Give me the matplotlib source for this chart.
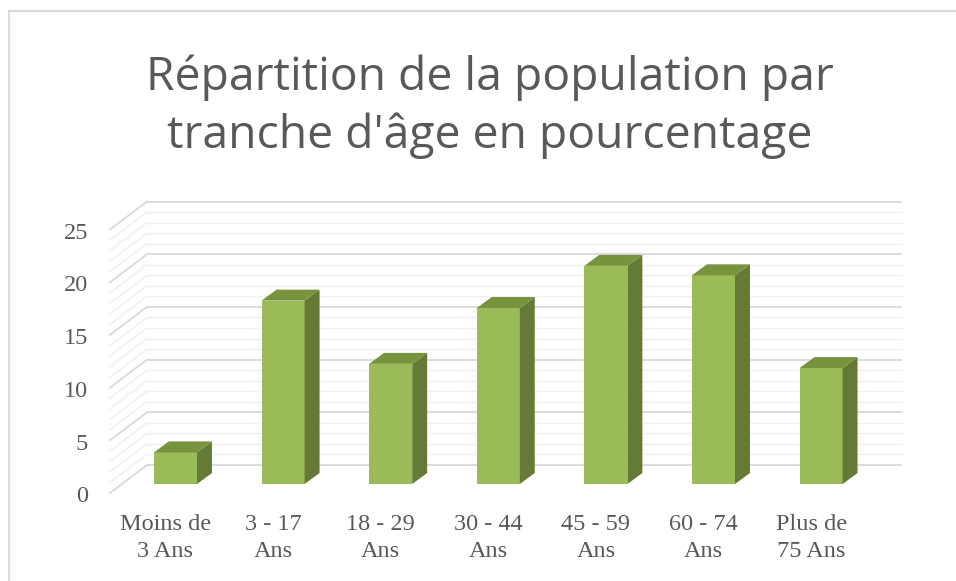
import matplotlib.pyplot as plt
from matplotlib.patches import Polygon
from matplotlib.lines import Line2D

# ==========================================
# Data
# ==========================================
categories = ["Moins de\n3 Ans", "3 - 17\nAns", "18 - 29\nAns", "30 - 44\nAns",
              "45 - 59\nAns", "60 - 74\nAns", "Plus de\n75 Ans"]
values = [3.0, 17.4, 11.4, 16.7, 20.7, 19.8, 11.0]
y_ticks = [0, 5, 10, 15, 20, 25]
title = "Répartition de la population par\ntranche d'âge en pourcentage"

# ==========================================
# Style / fake 3D geometry (data units)
# ==========================================
front_col = "#9BBB59"
side_col = "#667A38"
top_col = "#77933C"
major_col = "#D9D9D9"
minor_col = "#F0F0F0"
text_col = "#595959"

bar_w = 0.40
depth_dx, depth_dy = 0.139, 1.04      # bar depth offset
wall_dy = 1.80                        # back wall above bar front plane
wall_x0, wall_x1 = -0.265, 6.75
floor_dx, floor_dy = -0.344, -2.66    # left floor/side diagonal

fig = plt.figure(figsize=(9.56, 5.81), dpi=100)
ax = fig.add_axes([0, 0, 1, 1])
ax.set_xlim(-1.631, 7.254)
ax.set_ylim(-9.203, 45.92)
ax.axis("off")

# back wall + left side gridlines
for v in range(0, 26):
    major = v % 5 == 0
    c = major_col if major else minor_col
    lw = 1.3 if major else 1.0
    y = v + wall_dy
    ax.plot([wall_x0, wall_x1], [y, y], color=c, lw=lw, zorder=1 if major else 0.5,
            solid_capstyle="butt")
    ax.plot([wall_x0, wall_x0 + floor_dx], [y, y + floor_dy], color=c, lw=lw,
            zorder=1 if major else 0.5)

# bars
xs = list(range(len(values)))
ax.bar(xs, values, width=bar_w, color=front_col, zorder=3)
for x, v in zip(xs, values):
    r = x + bar_w / 2
    l = x - bar_w / 2
    side = Polygon([(r, 0), (r + depth_dx, depth_dy), (r + depth_dx, v + depth_dy), (r, v)],
                   closed=True, facecolor=side_col, edgecolor="none", zorder=3)
    top = Polygon([(l, v), (r, v), (r + depth_dx, v + depth_dy), (l + depth_dx, v + depth_dy)],
                  closed=True, facecolor=top_col, edgecolor="none", zorder=3)
    ax.add_patch(side)
    ax.add_patch(top)

# value axis labels
for t in y_ticks:
    ax.text(-0.813, t + wall_dy + floor_dy - 0.35, str(t), ha="right", va="center",
            fontsize=17.5, family="Liberation Serif", color=text_col)

# category labels
for x, lab in zip(xs, categories):
    ax.text(x - 0.093, -5.12, lab, ha="center", va="center", linespacing=1.39,
            fontsize=17.5, family="Liberation Serif", color=text_col)

# title
fig.text(490 / 956, 1 - 107 / 581, title, ha="center", va="center",
         fontsize=33.3, family="Open Sans", color=text_col, linespacing=1.32)

# chart frame (left + top edges visible)
fig.add_artist(Line2D([9 / 956, 9 / 956], [0, 1 - 11 / 581], color=major_col, lw=1.5))
fig.add_artist(Line2D([9 / 956, 1], [1 - 11 / 581, 1 - 11 / 581], color=major_col, lw=1.5))

plt.savefig("out.png", dpi=100)
